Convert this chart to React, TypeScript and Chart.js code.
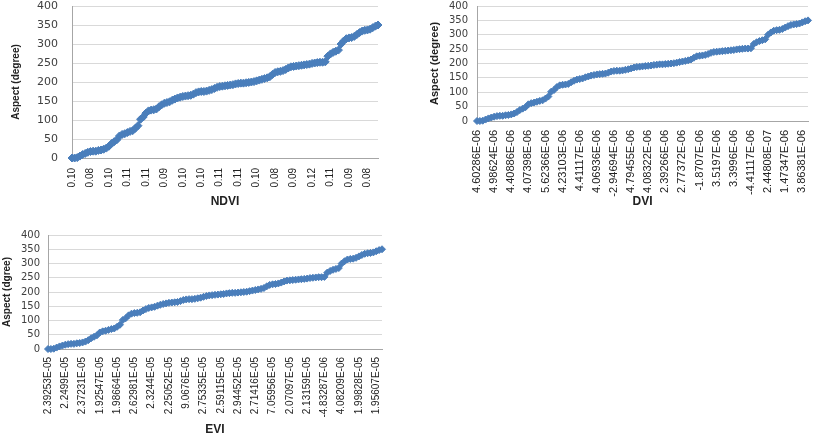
import React, { useEffect, useRef } from "react";
import { Chart, registerables } from "chart.js";
Chart.register(...registerables);

// Aspect values (degrees), sorted
const aspect = [
  0, 0, 1, 5, 9, 12, 15, 17, 18, 18,
  20, 21, 23, 26, 31, 38, 43, 48, 58, 62,
  64, 67, 70, 72, 78, 85, 102, 108, 118, 124,
  126, 127, 129, 135, 140, 144, 146, 148, 152, 155,
  158, 160, 162, 163, 164, 165, 168, 172, 174, 175,
  175, 176, 178, 180, 183, 186, 188, 189, 190, 191,
  192, 193, 195, 196, 197, 197, 198, 199, 200, 201,
  203, 205, 207, 209, 211, 214, 220, 225, 227, 228,
  230, 233, 237, 240, 241, 242, 243, 244, 245, 246,
  247, 249, 250, 251, 252, 252, 253, 268, 274, 278,
  281, 284, 300, 308, 314, 316, 317, 320, 325, 330,
  334, 336, 337, 339, 343, 347, 350,
];

const ndviTicks = [
  "0.10", "0.08", "0.10", "0.11", "0.11", "0.09", "0.10", "0.10", "0.11",
  "0.11", "0.10", "0.08", "0.09", "0.12", "0.11", "0.09", "0.08",
];
const dviTicks = [
  "4.60286E-06", "4.98624E-06", "4.40886E-06", "4.07398E-06", "5.62366E-06",
  "4.23103E-06", "4.41117E-06", "4.06936E-06", "-2.94694E-06", "4.79455E-06",
  "4.08322E-06", "2.39266E-06", "2.77372E-06", "-1.8707E-06", "3.5197E-06",
  "3.3996E-06", "-4.41117E-06", "2.44808E-07", "1.47347E-06", "3.86381E-06",
];
const eviTicks = [
  "2.39253E-05", "2.2499E-05", "2.37231E-05", "1.92547E-05", "1.98664E-05",
  "2.62981E-05", "2.3244E-05", "2.25052E-05", "9.0676E-05", "2.75335E-05",
  "2.59115E-05", "2.94452E-05", "2.71416E-05", "7.05956E-05", "2.07097E-05",
  "2.13159E-05", "-4.83287E-06", "4.08209E-06", "1.99828E-05", "1.95607E-05",
];
const yTicks = [0, 50, 100, 150, 200, 250, 300, 350, 400];

function buildLabels(ticks: string[], step: number, n: number): string[] {
  const out: string[] = [];
  for (let i = 0; i < n; i++) out.push(i % step === 0 && ticks[i / step] !== undefined ? ticks[i / step] : "");
  return out;
}

type Props = {
  left: number; top: number; width: number; height: number;
  ticks: string[]; step: number; yTitle: string; xTitle: string;
  padTop: number; padRight: number; yWidth: number; xHeight: number;
  yTickPad: number; xTickPad: number; yTitlePad: number; xTitlePad: number;
  yTickSize: number; xTickSize: number; yTitleSize: number; xTitleSize: number;
  radius: number;
};

function LineBox(p: Props) {
  const ref = useRef<HTMLCanvasElement>(null);
  useEffect(() => {
    if (!ref.current) return;
    const color = "#4a7ebb";
    const chart = new Chart(ref.current, {
      type: "line",
      data: {
        labels: buildLabels(p.ticks, p.step, aspect.length),
        datasets: [{
          data: aspect,
          borderColor: color,
          backgroundColor: color,
          borderWidth: 2,
          pointStyle: "rectRot",
          pointRadius: p.radius,
          pointBackgroundColor: color,
          pointBorderColor: color,
          pointBorderWidth: 1,
          clip: false as any,
          tension: 0,
        }],
      },
      options: {
        animation: false,
        responsive: false,
        maintainAspectRatio: false,
        layout: { padding: { left: 0, top: p.padTop, right: p.padRight, bottom: 0 } },
        plugins: { legend: { display: false }, tooltip: { enabled: false } },
        scales: {
          x: {
            type: "category",
            offset: false,
            grid: { display: false, drawTicks: false },
            border: { display: true, color: "#a6a6a6", width: 1 },
            ticks: {
              autoSkip: false,
              minRotation: 90,
              maxRotation: 90,
              padding: p.xTickPad,
              color: "#222",
              font: { family: "Liberation Sans", size: p.xTickSize },
            },
            title: {
              display: true,
              text: p.xTitle,
              color: "#222",
              padding: { top: 0, bottom: p.xTitlePad },
              font: { family: "Liberation Sans", size: p.xTitleSize, weight: "bold" },
            },
            afterFit: (s: any) => { s.height = p.xHeight; s.paddingLeft = 0; s.paddingRight = 0; },
          },
          y: {
            min: 0,
            max: 400,
            afterBuildTicks: (s: any) => { s.ticks = yTicks.map((v) => ({ value: v })); },
            grid: { color: "#d9d9d9", drawTicks: false, lineWidth: 1 },
            border: { display: true, color: "#a6a6a6", width: 1 },
            ticks: {
              autoSkip: false,
              padding: p.yTickPad,
              color: "#404040",
              font: { family: "DejaVu Sans", size: p.yTickSize },
            },
            title: {
              display: true,
              text: p.yTitle,
              color: "#222",
              padding: { top: p.yTitlePad, bottom: 0 },
              font: { family: "Liberation Sans", size: p.yTitleSize, weight: "bold" },
            },
            afterFit: (s: any) => { s.width = p.yWidth; s.paddingTop = 0; s.paddingBottom = 0; },
          },
        },
      } as any,
    });
    return () => chart.destroy();
  }, []);
  return (
    <canvas
      ref={ref}
      width={p.width}
      height={p.height}
      style={{ position: "absolute", left: p.left, top: p.top, width: p.width, height: p.height }}
    />
  );
}

export default function App() {
  return (
    <div style={{ position: "fixed", left: 0, top: 0, width: 813, height: 437, background: "#fff", overflow: "hidden" }}>
      <LineBox
        left={0} top={0} width={395} height={215}
        ticks={ndviTicks} step={7} yTitle="Aspect (degree)" xTitle="NDVI"
        padTop={6} padRight={17} yWidth={72} xHeight={57}
        yTickPad={14} xTickPad={10} yTitlePad={10} xTitlePad={6}
        yTickSize={11} xTickSize={10} yTitleSize={10} xTitleSize={12}
        radius={4}
      />
      <LineBox
        left={420} top={0} width={393} height={215}
        ticks={dviTicks} step={6} yTitle="Aspect (degree)" xTitle="DVI"
        padTop={6} padRight={5} yWidth={57} xHeight={94}
        yTickPad={9} xTickPad={9} yTitlePad={8} xTitlePad={6}
        yTickSize={10} xTickSize={11} yTitleSize={11} xTitleSize={12}
        radius={3.5}
      />
      <LineBox
        left={0} top={222} width={395} height={215}
        ticks={eviTicks} step={6} yTitle="Aspect (dgree)" xTitle="EVI"
        padTop={13} padRight={13} yWidth={48} xHeight={88}
        yTickPad={8} xTickPad={8} yTitlePad={1} xTitlePad={0}
        yTickSize={10} xTickSize={10} yTitleSize={10} xTitleSize={12}
        radius={3.5}
      />
    </div>
  );
}
